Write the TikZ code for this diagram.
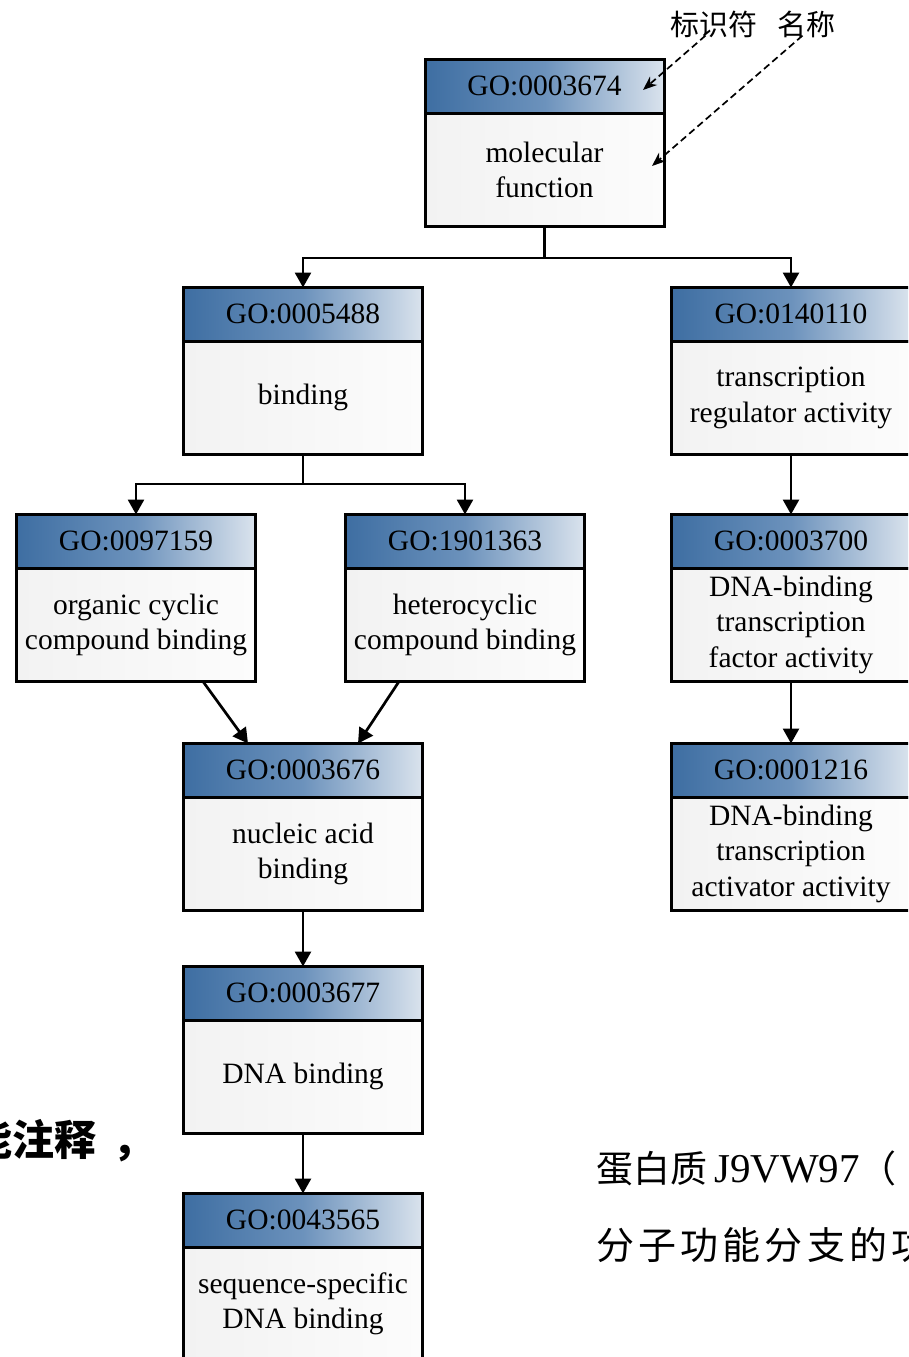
\documentclass[tikz,border=0pt]{standalone}
\usepackage{fontspec}
\setmainfont{Liberation Serif}
\newfontfamily\cjk{Noto Sans CJK SC}
\usetikzlibrary{arrows.meta}
\definecolor{hdrA}{RGB}{62,110,162}
\definecolor{hdrM}{RGB}{108,146,188}
\definecolor{hdrB}{RGB}{218,227,237}
\definecolor{bdyA}{RGB}{242,242,242}
\definecolor{bdyB}{RGB}{252,252,252}
\tikzset{
  hdr/.style={draw, line width=3pt, rectangle, outer sep=0pt, inner sep=0pt,
    minimum width=239pt, minimum height=53.5pt,
    left color=hdrA, right color=hdrB, middle color=hdrM,
    font=\fontsize{29.5}{35}\selectfont},
  bdy/.style={draw, line width=3pt, rectangle, outer sep=0pt, inner sep=0pt,
    minimum width=239pt, minimum height=113.5pt,
    left color=bdyA, right color=bdyB,
    align=center, font=\fontsize{29.5}{35.5}\selectfont},
  conn/.style={line width=2.7pt, draw=black},
  arr/.style={conn, -{Triangle[length=15pt,width=16pt]}},
  dasharr/.style={line width=1.7pt, dash pattern=on 7pt off 4pt,
    -{Stealth[length=14pt,width=11pt]}},
  cjklab/.style={inner sep=0pt, font=\cjk\fontsize{29}{32}\selectfont}
}
\newcommand\gobox[5]{%
  \node[hdr, anchor=north] (#1h) at (#2,#3) {#4};
  \node[bdy, anchor=north] (#1) at (#1h.south) {#5};
}
\begin{document}
\begin{tikzpicture}[x=1pt,y=-1pt]
\useasboundingbox (0,0) rectangle (908,1357);
\clip (0,0) rectangle (908,1357);
\fill[white] (0,0) rectangle (908,1357);

\gobox{top}{544.5}{59.5}{GO:0003674}{molecular\\function}
\gobox{bind}{303}{287.5}{GO:0005488}{binding}
\gobox{tr}{791}{287.5}{GO:0140110}{transcription\\regulator activity}
\gobox{org}{136}{514.5}{GO:0097159}{organic cyclic\\compound binding}
\gobox{het}{465}{514.5}{GO:1901363}{heterocyclic\\compound binding}
\gobox{dbtf}{791}{514.5}{GO:0003700}{DNA-binding\\transcription\\factor activity}
\gobox{nuc}{303}{743.5}{GO:0003676}{nucleic acid\\binding}
\gobox{act}{791}{743.5}{GO:0001216}{DNA-binding\\transcription\\activator activity}
\gobox{dna}{303}{966.5}{GO:0003677}{DNA binding}
\gobox{seq}{303}{1193.5}{GO:0043565}{sequence-specific\\DNA binding}

% connectors
\coordinate (j1) at (544.5,258);
\draw[conn] (top.south) -- (j1);
\draw[arr] (j1) -| (bindh.north);
\draw[arr] (j1) -| (trh.north);
\coordinate (j2) at (303,484);
\draw[conn] (bind.south) -- (j2);
\draw[arr] (j2) -| (orgh.north);
\draw[arr] (j2) -| (heth.north);
\draw[arr] ([xshift=67pt]org.south) -- ([xshift=-55pt]nuch.north);
\draw[arr] ([xshift=-66pt]het.south) -- ([xshift=55pt]nuch.north);
\draw[arr] (tr.south) -- (dbtfh.north);
\draw[arr] (dbtf.south) -- (acth.north);
\draw[arr] (nuc.south) -- (dnah.north);
\draw[arr] (dna.south) -- (seqh.north);

% legend labels
\node[cjklab] (lab1) at (713.5,24) {标识符};
\node[cjklab] (lab2) at (806.5,24) {名称};
\coordinate (t1) at (643,90);
\coordinate (t2) at (652,166);
\draw[dasharr] ([xshift=-8pt,yshift=2pt]lab1.south) -- (t1);
\draw[dasharr] ([xshift=-4pt,yshift=2pt]lab2.south) -- (t2);

% side texts
\node[anchor=west, inner sep=0pt, font=\cjk\bfseries\fontsize{42}{46}\selectfont] (side) at (-30,1141) {能注释\hspace{16pt}，};
\node[anchor=west, inner sep=0pt] (cap1) at (596,1168)
  {{\cjk\fontsize{37}{40}\selectfont 蛋白质}\hspace{7pt}{\fontsize{41}{44}\selectfont J9VW97}{\cjk\fontsize{37}{40}\selectfont （}};
\node[anchor=west, inner sep=0pt] (cap2) at (596,1245)
  {\cjk\fontsize{38}{40}\selectfont\addfontfeatures{LetterSpace=11}分子功能分支的功};
\end{tikzpicture}
\end{document}
